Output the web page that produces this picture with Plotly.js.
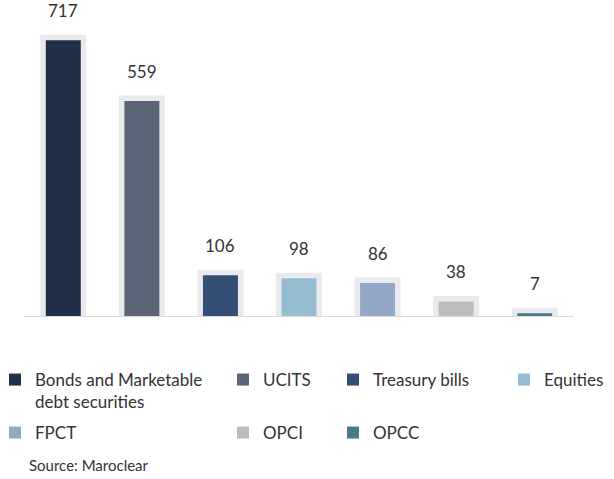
<!DOCTYPE html>
<html>
<head>
<meta charset="utf-8">
<script src="https://cdn.plot.ly/plotly-3.0.1.min.js"></script>
<style>
  html, body { margin: 0; padding: 0; background: #fff; }
  #chart { width: 614px; height: 479px; }
</style>
</head>
<body>
<div id="chart"></div>
<script>
// Data
var categories = ["Bonds and Marketable<br>debt securities", "UCITS", "Treasury bills", "Equities", "FPCT", "OPCI", "OPCC"];
var values = [717, 559, 106, 98, 86, 38, 7];
var colors = ["#1f2f48", "#5a6577", "#344e75", "#96bcd0", "#93a8c6", "#bcbcbc", "#467a8a"];

var bgColor = "#e9eaee";
var barWidth = 0.445;

// grey frame behind every bar
var bgTrace = {
  x: categories,
  y: values,
  type: "bar",
  width: barWidth,
  marker: { color: bgColor, line: { color: bgColor, width: 11 } },
  showlegend: false,
  hoverinfo: "skip"
};

// one legend per item so columns line up like the original
var legendIds = ["legend", "legend2", "legend3", "legend4", "legend5", "legend6", "legend7"];
var legendX = [-5, 223, 333, 504, -5, 223, 333];
var legendY = [362, 362, 362, 362, 415, 415, 415];

var data = [bgTrace];
categories.forEach(function (c, i) {
  data.push({
    x: [c],
    y: [values[i]],
    type: "bar",
    name: c,
    width: barWidth,
    marker: { color: colors[i] },
    legend: legendIds[i],
    hovertemplate: "%{y}<extra></extra>"
  });
});

var W = 614, H = 479;
var plotLeft = 24, plotWidth = 550, plotBottom = 316, plotHeight = 296;

var layout = {
  width: W,
  height: H,
  margin: { l: plotLeft, r: W - plotLeft - plotWidth, t: plotBottom - plotHeight, b: H - plotBottom, autoexpand: false },
  barmode: "overlay",
  paper_bgcolor: "#ffffff",
  plot_bgcolor: "#ffffff",
  font: { family: "Lato, 'Open Sans', sans-serif", color: "#333333", size: 16 },
  xaxis: {
    showline: true,
    linecolor: "#d9d9d9",
    linewidth: 1,
    showticklabels: false,
    ticks: "",
    showgrid: false,
    zeroline: false,
    fixedrange: true
  },
  yaxis: {
    visible: false,
    range: [0, 770],
    fixedrange: true
  },
  annotations: values.map(function (v, i) {
    return {
      x: categories[i],
      y: v,
      xref: "x",
      yref: "y",
      text: String(v),
      showarrow: false,
      yanchor: "bottom",
      yshift: 17,
      font: { family: "Lato, sans-serif", size: 17, color: "#333333" }
    };
  }).concat([{
    text: "Source: Maroclear",
    xref: "paper",
    yref: "paper",
    x: (27 - plotLeft) / plotWidth,
    y: (plotBottom - 465) / plotHeight,
    xanchor: "left",
    yanchor: "middle",
    showarrow: false,
    font: { family: "Lato, sans-serif", size: 15, color: "#333333" }
  }])
};

legendIds.forEach(function (id, i) {
  layout[id] = {
    xref: "paper",
    yref: "paper",
    x: (legendX[i] - plotLeft) / plotWidth,
    y: (plotBottom - legendY[i]) / plotHeight,
    xanchor: "left",
    yanchor: "top",
    orientation: "v",
    valign: "top",
    bgcolor: "rgba(0,0,0,0)",
    font: { family: "Lato, sans-serif", size: 17, color: "#333333" }
  };
});

Plotly.newPlot("chart", data, layout, { displayModeBar: false, staticPlot: true });
</script>
</body>
</html>
